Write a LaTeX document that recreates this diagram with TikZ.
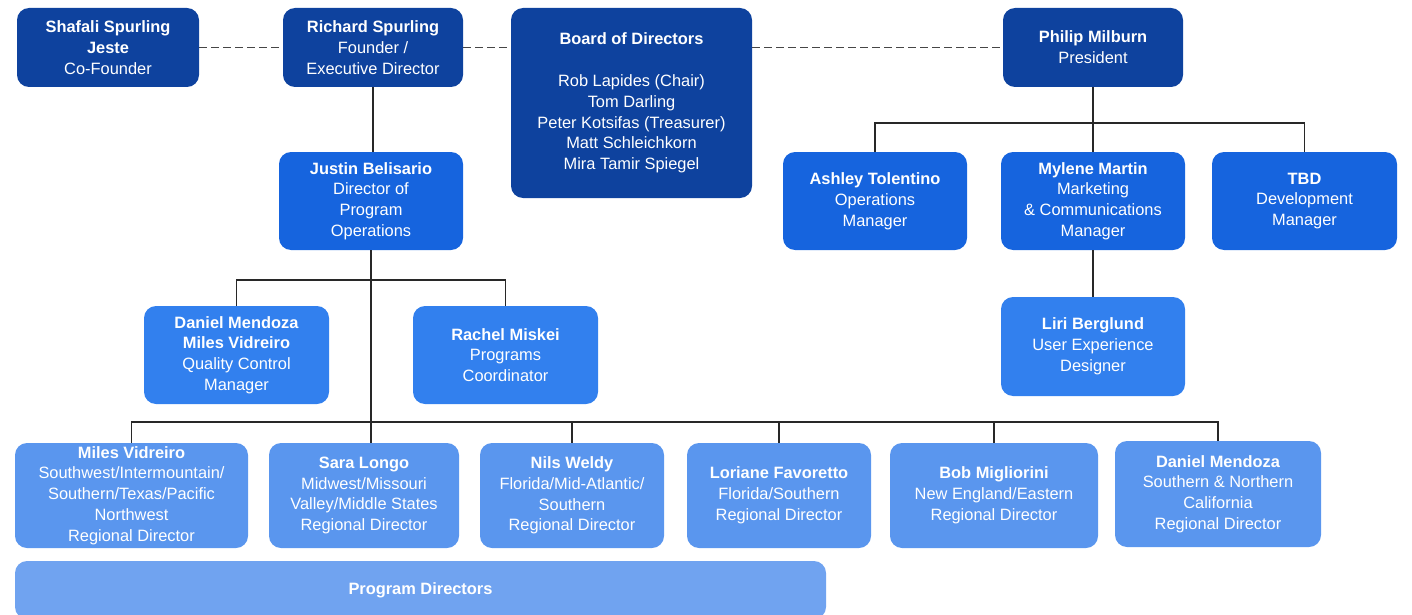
\documentclass[tikz,border=0pt]{standalone}
\usepackage{fontspec}
\setmainfont{Liberation Sans}
\definecolor{navy}{RGB}{14,66,158}
\definecolor{midblue}{RGB}{22,100,222}
\definecolor{lightblue}{RGB}{50,128,238}
\definecolor{regblue}{RGB}{90,150,238}
\definecolor{pdblue}{RGB}{112,163,240}
\definecolor{linegray}{RGB}{40,40,40}
\definecolor{dashgray}{RGB}{70,70,70}
\begin{document}
\begin{tikzpicture}[x=1pt,y=-1pt,
  orgbox/.style={rounded corners=12pt, text=white, align=center, inner sep=0pt,
    font=\fontsize{16.4}{20.8}\selectfont},
  conn/.style={draw=linegray, line width=1.1pt},
  dconn/.style={draw=dashgray, line width=1.4pt, dash pattern=on 8pt off 4pt}]
\useasboundingbox (0,0) rectangle (1412,615);
\clip (0,0) rectangle (1412,615);
% top row
\node[orgbox, fill=navy, minimum width=182pt, minimum height=79pt] (shafali) at (108,47.5)
  {\textbf{Shafali Spurling}\\\textbf{Jeste}\\Co-Founder};
\node[orgbox, fill=navy, minimum width=180pt, minimum height=79pt] (richard) at (373,47.5)
  {\textbf{Richard Spurling}\\Founder /\\Executive Director};
\node[orgbox, fill=navy, minimum width=241pt, minimum height=190pt] (board) at (631.5,103)
  {\textbf{Board of Directors}\\[20.8pt]Rob Lapides (Chair)\\Tom Darling\\Peter Kotsifas (Treasurer)\\Matt Schleichkorn\\Mira Tamir Spiegel};
\node[orgbox, fill=navy, minimum width=180pt, minimum height=79pt] (philip) at (1093,47.5)
  {\textbf{Philip Milburn}\\President};
% second row
\node[orgbox, fill=midblue, minimum width=184pt, minimum height=98pt] (justin) at (371,201)
  {\textbf{Justin Belisario}\\Director of\\Program\\Operations};
\node[orgbox, fill=midblue, minimum width=184pt, minimum height=98pt] (ashley) at (875,201)
  {\textbf{Ashley Tolentino}\\Operations\\Manager};
\node[orgbox, fill=midblue, minimum width=184pt, minimum height=98pt] (mylene) at (1093,201)
  {\textbf{Mylene Martin}\\Marketing\\\& Communications\\Manager};
\node[orgbox, fill=midblue, minimum width=185pt, minimum height=98pt] (tbd) at (1304.5,201)
  {\textbf{TBD}\\Development\\Manager};
% third row
\node[orgbox, fill=lightblue, minimum width=185pt, minimum height=98pt] (qc) at (236.5,355)
  {\textbf{Daniel Mendoza}\\\textbf{Miles Vidreiro}\\Quality Control\\Manager};
\node[orgbox, fill=lightblue, minimum width=185pt, minimum height=98pt] (rachel) at (505.5,355)
  {\textbf{Rachel Miskei}\\Programs\\Coordinator};
\node[orgbox, fill=lightblue, minimum width=184pt, minimum height=99pt] (liri) at (1093,346.5)
  {\textbf{Liri Berglund}\\User Experience\\Designer};
% regional row
\node[orgbox, fill=regblue, minimum width=233pt, minimum height=105pt] (milesr) at (131.5,495.5)
  {\textbf{Miles Vidreiro}\\Southwest/Intermountain/\\Southern/Texas/Pacific\\Northwest\\Regional Director};
\node[orgbox, fill=regblue, minimum width=190pt, minimum height=105pt] (sara) at (364,495.5)
  {\textbf{Sara Longo}\\Midwest/Missouri\\Valley/Middle States\\Regional Director};
\node[orgbox, fill=regblue, minimum width=184pt, minimum height=105pt] (nils) at (572,495.5)
  {\textbf{Nils Weldy}\\Florida/Mid-Atlantic/\\Southern\\Regional Director};
\node[orgbox, fill=regblue, minimum width=184pt, minimum height=105pt] (loriane) at (779,495.5)
  {\textbf{Loriane Favoretto}\\Florida/Southern\\Regional Director};
\node[orgbox, fill=regblue, minimum width=208pt, minimum height=105pt] (bob) at (994,495.5)
  {\textbf{Bob Migliorini}\\New England/Eastern\\Regional Director};
\node[orgbox, fill=regblue, minimum width=206pt, minimum height=106pt] (daniel) at (1218,494)
  {\textbf{Daniel Mendoza}\\Southern \& Northern\\California\\Regional Director};
\node[orgbox, fill=pdblue, minimum width=811pt, minimum height=58pt] (progdir) at (420.5,590)
  {\textbf{Program Directors}};
% bus coordinates
\coordinate (qcbus) at (0,280);
\coordinate (rbus) at (0,422);
\coordinate (pbus) at (0,123);
% dashed links
\draw[dconn] (shafali.east) -- (richard.west);
\draw[dconn] (richard.east) -- (richard.east -| board.west);
\draw[dconn] (philip.west -| board.east) -- (philip.west);
% solid links
\draw[conn] (richard.south) -- (richard.south |- justin.north);
\draw[conn] (justin.south) -- (justin.south |- sara.north);
\draw[conn] (qc.north) -- (qc.north |- qcbus) -- (rachel.north |- qcbus) -- (rachel.north);
\draw[conn] (milesr.north) -- (milesr.north |- rbus) -- (daniel.north |- rbus) -- (daniel.north);
\draw[conn] (nils.north |- rbus) -- (nils.north);
\draw[conn] (loriane.north |- rbus) -- (loriane.north);
\draw[conn] (bob.north |- rbus) -- (bob.north);
\draw[conn] (philip.south) -- (mylene.north);
\draw[conn] (ashley.north) -- (ashley.north |- pbus) -- (tbd.north |- pbus) -- (tbd.north);
\draw[conn] (mylene.south) -- (liri.north);
\end{tikzpicture}
\end{document}
